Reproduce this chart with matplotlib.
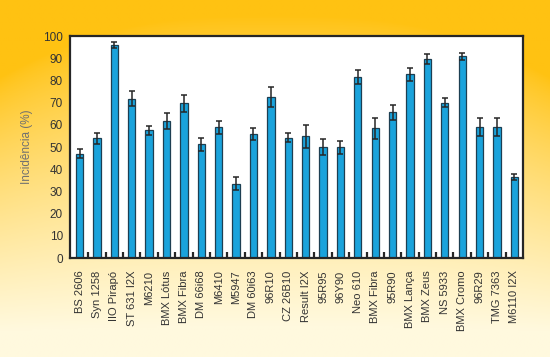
import matplotlib
matplotlib.use("Agg")
import matplotlib.pyplot as plt
import numpy as np

plt.rcParams['font.family'] = ['Liberation Sans', 'DejaVu Sans']

cultivars = [
    "BS 2606", "Syn 1258", "IIO Pirapó", "ST 631 I2X", "M6210", "BMX Lótus",
    "BMX Fibra", "DM 66i68", "M6410", "M5947", "DM 60i63", "96R10",
    "CZ 26B10", "Result I2X", "95R95", "96Y90", "Neo 610", "BMX Fibra",
    "95R90", "BMX Lança", "BMX Zeus", "NS 5933", "BMX Cromo", "96R29",
    "TMG 7363", "M6110 I2X",
]
incidence = [
    47.0, 54.0, 96.0, 71.8, 57.5, 61.7, 69.7, 51.2, 58.9, 33.5, 56.0, 72.5,
    54.2, 54.8, 50.0, 50.0, 81.4, 58.4, 65.6, 82.7, 89.8, 70.0, 90.8, 59.2,
    59.2, 36.6,
]
err = [
    2.0, 2.4, 1.5, 3.4, 2.2, 3.6, 3.9, 2.8, 3.0, 3.0, 2.6, 4.5,
    2.1, 5.0, 3.5, 2.9, 3.1, 4.8, 3.3, 2.9, 2.2, 2.1, 1.4, 4.0,
    4.0, 1.4,
]

BAR = "#1aa3dc"
DARK = "#262626"
TXT = "#333333"

fig = plt.figure(figsize=(5.5, 3.57), dpi=100)

# background gradient (saturated yellow on top, pale cream at the bottom)
bg = fig.add_axes([0, 0, 1, 1], zorder=-1)
h, w = 200, 300
yy, xx = np.mgrid[0:1:h * 1j, 0:1:w * 1j]
edge = np.abs(xx - 0.5) * 2
s = np.clip(yy * 1.15 - 0.05 - 0.25 * edge ** 3 * (1 - yy), 0, 1) ** 0.8
top = np.array([255, 194, 18]) / 255
bottom = np.array([255, 249, 222]) / 255
img = top[None, None, :] * (1 - s[..., None]) + bottom[None, None, :] * s[..., None]
bg.imshow(img, aspect="auto", extent=[0, 1, 0, 1], origin="upper")
bg.set_axis_off()

ax = fig.add_axes([0.127, 0.277, 0.824, 0.622])
ax.set_facecolor("white")
x = np.arange(len(cultivars))
ax.bar(x, incidence, width=0.42, color=BAR, edgecolor="#1d3f52", linewidth=0.9,
       yerr=err, capsize=2.2, error_kw=dict(ecolor=DARK, elinewidth=1.1, capthick=1.1))

ax.set_xlim(-0.56, len(cultivars) - 0.5)
ax.set_ylim(0, 100)
ax.set_yticks(range(0, 101, 10))
ax.set_xticks(x)
ax.set_xticklabels(cultivars, rotation=90, fontsize=8, color=TXT)
ax.set_xticks(x[:-1] + 0.5, minor=True)
ax.tick_params(axis="x", which="major", length=0, pad=9)
ax.tick_params(axis="x", which="minor", direction="in", length=4, width=1.6, color=DARK)
ax.tick_params(axis="y", length=0, pad=5, labelsize=8.5, labelcolor=TXT)
for sp in ax.spines.values():
    sp.set_linewidth(1.6)
    sp.set_color(DARK)

ax.set_ylabel("Incidência (%)", fontsize=8.5, color="#707070", labelpad=7)

fig.savefig("out.png", dpi=100)
